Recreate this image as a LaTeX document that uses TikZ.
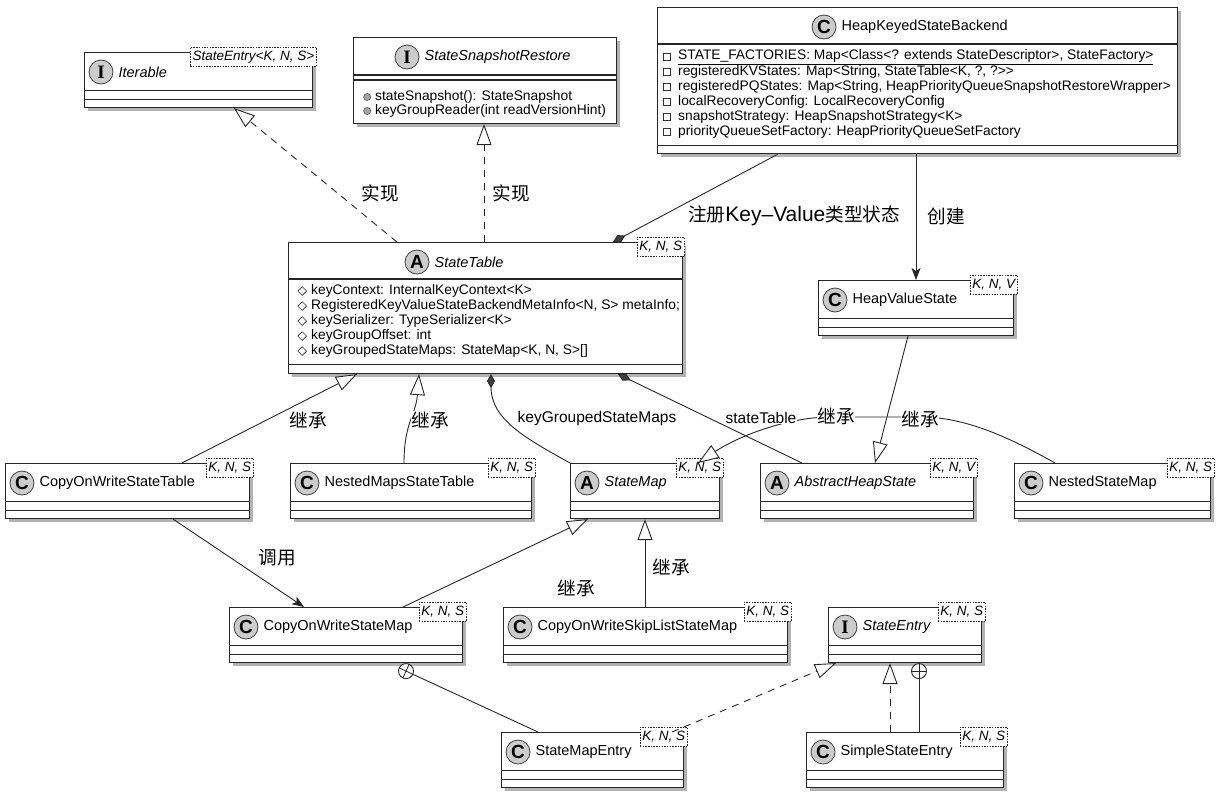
\documentclass[tikz,border=0pt]{standalone}
\usepackage{fontspec}
\setmainfont{Liberation Sans}
\newfontfamily\cjk[Scale=1.2]{Noto Sans CJK SC}
\newfontfamily\serifI{Liberation Serif}
\usetikzlibrary{arrows.meta, shadows, shapes.geometric, positioning}

\tikzset{
  cls/.style={draw=black!85, line width=1.1pt, fill=white, rectangle, inner sep=0pt, anchor=north west,
    drop shadow={shadow xshift=3pt, shadow yshift=-3pt, fill=black, opacity=0.3}},
  sep/.style={draw=black!85, line width=1.1pt},
  icon/.style={circle, draw=black!75, fill=black!20, line width=0.8pt, minimum size=24pt, inner sep=0pt,
    font=\fontsize{19}{19}\selectfont\bfseries},
  title/.style={inner sep=0pt, font=\fontsize{14.5}{16}\selectfont},
  tparam/.style={draw=black!85, dash pattern=on 1.5pt off 1.2pt, line width=0.8pt, fill=white, anchor=north east,
    inner xsep=2.5pt, inner ysep=2pt, minimum height=19pt, font=\fontsize{13.5}{15}\selectfont\itshape},
  member/.style={inner sep=0pt, anchor=west, font=\fontsize{13.8}{15}\selectfont},
  privmark/.style={draw=black!80, rectangle, minimum size=7pt, inner sep=0pt, line width=0.6pt},
  protmark/.style={draw=black!80, diamond, minimum size=9pt, inner sep=0pt, line width=0.6pt},
  pubmark/.style={draw=black!70, circle, fill=black!35, minimum size=7pt, inner sep=0pt, line width=0.6pt},
  lbl/.style={fill=white, inner sep=0.5pt, font=\fontsize{15.5}{18}\selectfont},
  link/.style={draw=black!85, line width=0.9pt},
  extend/.style={link, -{Triangle[length=21pt, width=15pt, fill=white, line width=0.9pt]}},
  realize/.style={extend, dash pattern=on 7pt off 6pt},
  owns/.style={link, {Diamond[length=14pt, width=8pt, fill=black!75]}-},
  calls/.style={link, -{Stealth[length=12pt, width=9pt, inset=3pt]}},
  nest/.style={circle, draw=black!85, fill=white, minimum size=15pt, inner sep=0pt, line width=0.9pt,
    path picture={\draw[black!85, line width=0.8pt]
      (path picture bounding box.center) ++(#1:8pt) -- ++(#1+180:16pt)
      (path picture bounding box.center) ++(#1+90:8pt) -- ++(#1+270:16pt);}},
}

\begin{document}
\begin{tikzpicture}[x=1pt, y=-1pt]
\useasboundingbox (0,0) rectangle (1223,798);

% classes with two empty compartments
\foreach \n/\x/\y/\w/\k/\t/\g in {
  iter/84/52/228/{\serifI I}/{\itshape Iterable}/{StateEntry<K, N, S>},
  hvs/818/280/195/C/HeapValueState/{K, N, V},
  cowst/5/463/244/C/CopyOnWriteStateTable/{K, N, S},
  nmst/290/463/241/C/NestedMapsStateTable/{K, N, S},
  sm/570/463/149/A/{\itshape StateMap}/{K, N, S},
  ahs/760/463/213/A/{\itshape AbstractHeapState}/{K, N, V},
  nsm/1014/463/196/C/NestedStateMap/{K, N, S},
  cowsm/229/607/233/C/CopyOnWriteStateMap/{K, N, S},
  cowslsm/503/607/284/C/CopyOnWriteSkipListStateMap/{K, N, S},
  se/828/607/153/{\serifI I}/{\itshape StateEntry}/{K, N, S},
  sme/501/732/182/C/StateMapEntry/{K, N, S},
  sse/806/732/197/C/SimpleStateEntry/{K, N, S}
}{
  \node[cls, minimum width=\w pt, minimum height=55pt] (\n) at (\x,\y) {};
  \draw[sep] ([yshift=9pt]\n.south west) -- ([yshift=9pt]\n.south east)
             ([yshift=18pt]\n.south west) -- ([yshift=18pt]\n.south east);
  \node[icon] (\n-icon) at ([xshift=17pt, yshift=-20pt]\n.north west) {\k};
  \node[title, right=5pt of \n-icon] (\n-title) {\t};
  \node[tparam] (\n-tp) at ([xshift=4pt, yshift=5pt]\n.north east) {\g};
}

% StateSnapshotRestore
\node[cls, minimum width=263pt, minimum height=86pt] (ssr) at (353,37) {};
\draw[sep] ([yshift=-38pt]ssr.north west) -- ([yshift=-38pt]ssr.north east)
           ([yshift=-43pt]ssr.north west) -- ([yshift=-43pt]ssr.north east);
\node[icon] (ssr-icon) at ([xshift=54pt, yshift=-20pt]ssr.north west) {\serifI I};
\node[title, right=5pt of ssr-icon, font=\fontsize{14.5}{16}\selectfont\itshape] (ssr-title) {StateSnapshotRestore};
\node[member] (ssr-m1) at ([xshift=22pt, yshift=-60pt]ssr.north west) {stateSnapshot(): StateSnapshot};
\node[member] (ssr-m2) at ([xshift=22pt, yshift=-74pt]ssr.north west) {keyGroupReader(int readVersionHint)};
\node[pubmark, left=4pt of ssr-m1] (ssr-d1) {};
\node[pubmark, left=4pt of ssr-m2] (ssr-d2) {};

% HeapKeyedStateBackend
\node[cls, minimum width=520pt, minimum height=146pt] (hksb) at (657,7) {};
\draw[sep] ([yshift=-37pt]hksb.north west) -- ([yshift=-37pt]hksb.north east)
           ([yshift=9pt]hksb.south west) -- ([yshift=9pt]hksb.south east);
\node[icon] (hksb-icon) at ([xshift=167pt, yshift=-20pt]hksb.north west) {C};
\node[title, right=5pt of hksb-icon] (hksb-title) {HeapKeyedStateBackend};
\foreach \a [count=\i from 0] in {
  {\underline{STATE\_FACTORIES: Map<Class<? extends StateDescriptor>, StateFactory>}},
  {registeredKVStates: Map<String, StateTable<K, ?, ?>{}>},
  {registeredPQStates: Map<String, HeapPriorityQueueSnapshotRestoreWrapper>},
  {localRecoveryConfig: LocalRecoveryConfig},
  {snapshotStrategy: HeapSnapshotStrategy<K>},
  {priorityQueueSetFactory: HeapPriorityQueueSetFactory}
}{
  \node[member] (hksb-a\i) at ([xshift=21pt, yshift={-(50+15*\i)*1pt}]hksb.north west) {\a};
  \node[privmark, left=7pt of hksb-a\i] (hksb-m\i) {};
}

% StateTable
\node[cls, minimum width=394pt, minimum height=131pt] (st) at (288,242) {};
\draw[sep] ([yshift=-37pt]st.north west) -- ([yshift=-37pt]st.north east)
           ([yshift=10pt]st.south west) -- ([yshift=10pt]st.south east);
\node[icon] (st-icon) at ([xshift=129pt, yshift=-20pt]st.north west) {A};
\node[title, right=5pt of st-icon, font=\fontsize{14.5}{16}\selectfont\itshape] (st-title) {StateTable};
\node[tparam] (st-tp) at ([xshift=2pt, yshift=5pt]st.north east) {K, N, S};
\foreach \a [count=\i from 0] in {
  {keyContext: InternalKeyContext<K>},
  {RegisteredKeyValueStateBackendMetaInfo<N, S> metaInfo;},
  {keySerializer: TypeSerializer<K>},
  {keyGroupOffset: int},
  {keyGroupedStateMaps: StateMap<K, N, S>[]}
}{
  \node[member] (st-a\i) at ([xshift=23pt, yshift={-(49+15*\i)*1pt}]st.north west) {\a};
  \node[protmark, left=4pt of st-a\i] (st-m\i) {};
}

% nested class markers
\node[nest=-25] (cowsm-nest) at ([xshift=177pt, yshift=-8pt]cowsm.south west) {};
\node[nest=90] (se-nest) at ([xshift=91pt, yshift=-8pt]se.south west) {};

% connectors
\draw[realize] ([xshift=109pt]st.north west) -- ([xshift=150pt]iter.south west);
\draw[realize] ([xshift=196pt]st.north west) -- ([xshift=131pt]ssr.south west);
\draw[owns] ([xshift=325pt]st.north west) -- ([xshift=121pt]hksb.south west);
\draw[calls] ([xshift=259pt]hksb.south west) -- ([xshift=98pt]hvs.north west);
\draw[extend] ([xshift=177pt]cowst.north west) -- ([xshift=69pt]st.south west);
\draw[extend] ([xshift=114pt]nmst.north west) .. controls +(0,-40) and +(-3,40) .. ([xshift=131pt]st.south west);
\draw[owns] ([xshift=203pt]st.south west) .. controls +(0,45) and +(-45,-25) .. (sm.north west);
\draw[owns] ([xshift=330pt]st.south west) -- ([xshift=42pt]ahs.north west);
\draw[extend] ([xshift=90pt]hvs.south west) -- ([xshift=115pt]ahs.north west);
\draw[extend] ([xshift=41pt]nsm.north west) .. controls (1000,432) and (960,417) .. (920,417)
  -- (830,417) .. controls (790,417) and (740,435) .. ([xshift=128pt]sm.north west);
\draw[calls] ([xshift=168pt]cowst.south west) -- ([xshift=75pt]cowsm.north west);
\draw[extend] ([xshift=174pt]cowsm.north west) -- ([xshift=18pt]sm.south west);
\draw[extend] ([xshift=142pt]cowslsm.north west) -- ([xshift=75pt]sm.south west);
\draw[link] ([xshift=37pt]sme.north west) -- (cowsm-nest);
\draw[realize] ([xshift=171pt]sme.north west) -- ([xshift=8pt]se.south west);
\draw[realize] ([xshift=84pt]sse.north west) -- ([xshift=62pt]se.south west);
\draw[link] ([xshift=113pt]sse.north west) -- (se-nest);

% labels
\node[lbl] (l-impl1) at (380,193) {\cjk 实现};
\node[lbl] (l-impl2) at (511,193) {\cjk 实现};
\node[lbl] (l-reg) at (794,216) {{\cjk 注册}{\fontsize{21}{22}\selectfont Key–Value}{\cjk 类型状态}};
\node[lbl] (l-new) at (946,216) {\cjk 创建};
\node[lbl] (l-ext1) at (308,420) {\cjk 继承};
\node[lbl] (l-ext2) at (430,420) {\cjk 继承};
\node[lbl] (l-maps) at (597,418) {keyGroupedStateMaps};
\node[lbl] (l-table) at (761,418) {stateTable};
\node[lbl] (l-ext3) at (836,416) {\cjk 继承};
\node[lbl] (l-ext4) at (920,419) {\cjk 继承};
\node[lbl] (l-call) at (277,558) {\cjk 调用};
\node[lbl] (l-ext5) at (576,588) {\cjk 继承};
\node[lbl] (l-ext6) at (671,567) {\cjk 继承};
\end{tikzpicture}
\end{document}
